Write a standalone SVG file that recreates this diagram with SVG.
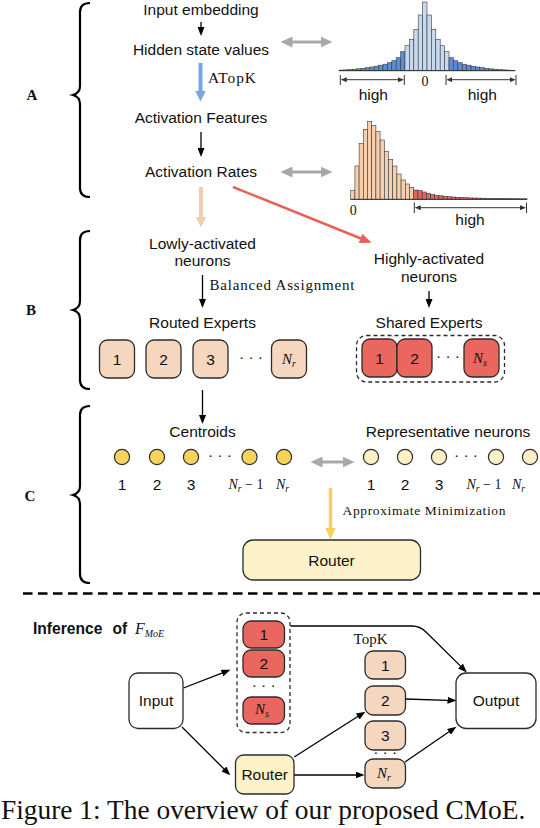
<svg xmlns="http://www.w3.org/2000/svg" width="540" height="828" viewBox="0 0 540 828">
<style>
.t{font-family:"Liberation Sans",Arial,sans-serif;font-size:15.5px;fill:#111;text-anchor:middle}
.sf{font-family:"Liberation Serif","Times New Roman",serif;fill:#111}
.mi{font-family:"Liberation Serif","Times New Roman",serif;font-style:italic;fill:#111}
.lab{font-family:"Liberation Serif","Times New Roman",serif;font-weight:bold;font-size:15px;fill:#111;text-anchor:middle}
.brace{fill:none;stroke:#000;stroke-width:2.2}
.box{stroke:#2b2b2b;stroke-width:1.3}
.peach{fill:#f5d6bf}
.red{fill:#e9675f}
.yel{fill:#fdf1c9}
.wht{fill:#fff}
.cg{fill:#f8d35c;stroke:#2b2b2b;stroke-width:1.2}
.cl{fill:#fdf0c7;stroke:#2b2b2b;stroke-width:1.2}
.dash{fill:none;stroke:#2b2b2b;stroke-width:1.3;stroke-dasharray:4 3}
.blk{fill:none;stroke:#000;stroke-width:1.3;marker-end:url(#ah)}
.gry{fill:none;stroke:#a8a8a8;stroke-width:3;marker-start:url(#gh);marker-end:url(#gh)}
.rng{fill:none;stroke:#333;stroke-width:1;marker-start:url(#rh);marker-end:url(#rh)}
.tick{stroke:#333;stroke-width:1}
.hb rect{stroke:#3a3a3a;stroke-width:0.6}
.lb{fill:#c6d9ef}.db{fill:#5d8cd6}.pc{fill:#f6cfb0}.rd{fill:#e4655f}
</style>
<defs>
<marker id="ah" markerUnits="userSpaceOnUse" markerWidth="9" markerHeight="7" viewBox="0 0 9 7" refX="0.5" refY="3.5" orient="auto"><path d="M0,0 L9,3.5 L0,7 z" fill="#000"/></marker>
<marker id="gh" markerUnits="userSpaceOnUse" markerWidth="12" markerHeight="11" viewBox="0 0 12 11" refX="0.5" refY="5.5" orient="auto-start-reverse"><path d="M0,0 L12,5.5 L0,11 z" fill="#a8a8a8"/></marker>
<marker id="rh" markerUnits="userSpaceOnUse" markerWidth="6" markerHeight="5" viewBox="0 0 6 5" refX="0.3" refY="2.5" orient="auto-start-reverse"><path d="M0,0 L6,2.5 L0,5 z" fill="#333"/></marker>
<marker id="bh" markerUnits="userSpaceOnUse" markerWidth="11" markerHeight="11" viewBox="0 0 11 11" refX="0.5" refY="5.5" orient="auto"><path d="M0,0 L11,5.5 L0,11 z" fill="#78a6e4"/></marker>
<marker id="ph" markerUnits="userSpaceOnUse" markerWidth="11" markerHeight="11" viewBox="0 0 11 11" refX="0.5" refY="5.5" orient="auto"><path d="M0,0 L11,5.5 L0,11 z" fill="#f2cdb0"/></marker>
<marker id="rdh" markerUnits="userSpaceOnUse" markerWidth="12" markerHeight="10" viewBox="0 0 12 10" refX="0.5" refY="5" orient="auto"><path d="M0,0 L12,5 L0,10 z" fill="#e8605a"/></marker>
<marker id="yh" markerUnits="userSpaceOnUse" markerWidth="12" markerHeight="11" viewBox="0 0 12 11" refX="0.5" refY="5.5" orient="auto"><path d="M0,0 L12,5.5 L0,11 z" fill="#f5cf5f"/></marker>
</defs>

<!-- Section labels and braces -->
<g id="braces">
<path class="brace" d="M90,3 Q80,3 80,12 L80,86 Q80,93 73,95 Q80,97 80,104 L80,188 Q80,197 90,197"/>
<path class="brace" d="M90,231 Q80,231 80,240 L80,301 Q80,308 73,310 Q80,312 80,319 L80,380 Q80,389 90,389"/>
<path class="brace" d="M90,406 Q80,406 80,415 L80,486 Q80,493 73,495 Q80,497 80,504 L80,574 Q80,583 90,583"/>
<text class="lab" x="32" y="100">A</text>
<text class="lab" x="31" y="315">B</text>
<text class="lab" x="30" y="501">C</text>
</g>

<!-- Section A texts -->
<g id="input-embedding"><text class="t" x="201" y="15">Input embedding</text></g>
<g id="hidden-state"><text class="t" x="201" y="55">Hidden state values</text></g>
<g id="atopk-label"><text class="sf" x="208" y="83" font-size="15.5" textLength="48">ATopK</text></g>
<g id="activation-features"><text class="t" x="201" y="123">Activation Features</text></g>
<g id="activation-rates"><text class="t" x="201" y="177">Activation Rates</text></g>

<!-- Histogram 1 -->
<g id="hist-hidden" class="hb">
<rect class="db" x="339" y="70.1" width="4.4" height="0.6"/>
<rect class="db" x="343.4" y="69.9" width="4.4" height="0.8"/>
<rect class="db" x="347.8" y="69.6" width="4.4" height="1.1"/>
<rect class="db" x="352.2" y="69.2" width="4.4" height="1.5"/>
<rect class="db" x="356.6" y="68.8" width="4.4" height="1.9"/>
<rect class="db" x="361" y="68.3" width="4.4" height="2.4"/>
<rect class="db" x="365.4" y="67.7" width="4.4" height="3"/>
<rect class="db" x="369.8" y="67" width="4.4" height="3.7"/>
<rect class="db" x="374.2" y="66.2" width="4.4" height="4.5"/>
<rect class="db" x="378.6" y="65.2" width="4.4" height="5.5"/>
<rect class="db" x="383" y="64.2" width="4.4" height="6.5"/>
<rect class="db" x="387.4" y="62.7" width="4.4" height="8"/>
<rect class="db" x="391.8" y="60.7" width="4.4" height="10"/>
<rect class="db" x="396.2" y="57.7" width="4.4" height="13"/>
<rect class="db" x="400.6" y="51.7" width="4.4" height="19"/>
<rect class="lb" x="405" y="45.7" width="4.4" height="25"/>
<rect class="lb" x="409.4" y="39.4" width="4.4" height="31.3"/>
<rect class="lb" x="413.8" y="29.4" width="4.4" height="41.3"/>
<rect class="lb" x="418.2" y="15" width="4.4" height="55.7"/>
<rect class="lb" x="422.6" y="2" width="4.4" height="68.7"/>
<rect class="lb" x="427" y="15" width="4.4" height="55.7"/>
<rect class="lb" x="431.4" y="29.4" width="4.4" height="41.3"/>
<rect class="lb" x="435.8" y="39.4" width="4.4" height="31.3"/>
<rect class="lb" x="440.2" y="45.7" width="4.4" height="25"/>
<rect class="lb" x="444.6" y="51.7" width="4.4" height="19"/>
<rect class="db" x="449" y="57.7" width="4.4" height="13"/>
<rect class="db" x="453.4" y="60.7" width="4.4" height="10"/>
<rect class="db" x="457.8" y="62.7" width="4.4" height="8"/>
<rect class="db" x="462.2" y="64.2" width="4.4" height="6.5"/>
<rect class="db" x="466.6" y="65.2" width="4.4" height="5.5"/>
<rect class="db" x="471" y="66.2" width="4.4" height="4.5"/>
<rect class="db" x="475.4" y="67" width="4.4" height="3.7"/>
<rect class="db" x="479.8" y="67.7" width="4.4" height="3"/>
<rect class="db" x="484.2" y="68.3" width="4.4" height="2.4"/>
<rect class="db" x="488.6" y="68.8" width="4.4" height="1.9"/>
<rect class="db" x="493" y="69.2" width="4.4" height="1.5"/>
<rect class="db" x="497.4" y="69.6" width="4.4" height="1.1"/>
<rect class="db" x="501.8" y="69.9" width="4.4" height="0.8"/>
<rect class="db" x="506.2" y="70.1" width="4.4" height="0.6"/>
<rect class="db" x="510.6" y="70.3" width="4.4" height="0.4"/>
<line class="tick" x1="339" y1="70.7" x2="515" y2="70.7"/>
<line class="tick" x1="340.3" y1="75" x2="340.3" y2="85"/>
<line class="tick" x1="404.3" y1="75" x2="404.3" y2="85"/>
<line class="rng" x1="346.5" y1="79.7" x2="398.3" y2="79.7"/>
<line class="tick" x1="446" y1="75" x2="446" y2="85"/>
<line class="tick" x1="516" y1="75" x2="516" y2="85"/>
<line class="rng" x1="452" y1="79.7" x2="510" y2="79.7"/>
<text class="sf" x="425" y="86" font-size="14" text-anchor="middle">0</text>
<text class="t" x="373.3" y="100">high</text>
<text class="t" x="482.3" y="100">high</text>
</g>

<!-- Histogram 2 -->
<g id="hist-rates" class="hb">
<rect class="pc" x="350.7" y="190.6" width="4.2" height="8.7"/>
<rect class="pc" x="354.9" y="166" width="4.2" height="33.3"/>
<rect class="pc" x="359.1" y="143.3" width="4.2" height="56"/>
<rect class="pc" x="363.3" y="129.3" width="4.2" height="70"/>
<rect class="pc" x="367.5" y="121.6" width="4.2" height="77.7"/>
<rect class="pc" x="371.7" y="125.6" width="4.2" height="73.7"/>
<rect class="pc" x="375.9" y="131.6" width="4.2" height="67.7"/>
<rect class="pc" x="380.1" y="140" width="4.2" height="59.3"/>
<rect class="pc" x="384.3" y="151.6" width="4.2" height="47.7"/>
<rect class="pc" x="388.5" y="159.3" width="4.2" height="40"/>
<rect class="pc" x="392.7" y="166" width="4.2" height="33.3"/>
<rect class="pc" x="396.9" y="174" width="4.2" height="25.3"/>
<rect class="pc" x="401.1" y="180" width="4.2" height="19.3"/>
<rect class="pc" x="405.3" y="184" width="4.2" height="15.3"/>
<rect class="pc" x="409.5" y="187.3" width="4.2" height="12"/>
<rect class="rd" x="413.7" y="190" width="4.2" height="9.3"/>
<rect class="rd" x="417.9" y="190.6" width="4.2" height="8.7"/>
<rect class="rd" x="422.1" y="192" width="4.2" height="7.3"/>
<rect class="rd" x="426.3" y="193.3" width="4.2" height="6"/>
<rect class="rd" x="430.5" y="194.6" width="4.2" height="4.7"/>
<rect class="rd" x="434.7" y="195.3" width="4.2" height="4"/>
<rect class="rd" x="438.9" y="195.8" width="4.2" height="3.5"/>
<rect class="rd" x="443.1" y="196.3" width="4.2" height="3"/>
<rect class="rd" x="447.3" y="196.7" width="4.2" height="2.6"/>
<rect class="rd" x="451.5" y="197" width="4.2" height="2.3"/>
<rect class="rd" x="455.7" y="197.3" width="4.2" height="2"/>
<rect class="rd" x="459.9" y="197.5" width="4.2" height="1.8"/>
<rect class="rd" x="464.1" y="197.7" width="4.2" height="1.6"/>
<rect class="rd" x="468.3" y="197.9" width="4.2" height="1.4"/>
<rect class="rd" x="472.5" y="198" width="4.2" height="1.3"/>
<rect class="rd" x="476.7" y="198.1" width="4.2" height="1.2"/>
<rect class="rd" x="480.9" y="198.2" width="4.2" height="1.1"/>
<rect class="rd" x="485.1" y="198.3" width="4.2" height="1"/>
<rect class="rd" x="489.3" y="198.4" width="4.2" height="0.9"/>
<rect class="rd" x="493.5" y="198.5" width="4.2" height="0.8"/>
<rect class="rd" x="497.7" y="198.5" width="4.2" height="0.8"/>
<rect class="rd" x="501.9" y="198.6" width="4.2" height="0.7"/>
<rect class="rd" x="506.1" y="198.6" width="4.2" height="0.7"/>
<rect class="rd" x="510.3" y="198.7" width="4.2" height="0.6"/>
<rect class="rd" x="514.5" y="198.7" width="4.2" height="0.6"/>
<rect class="rd" x="518.7" y="198.8" width="4.2" height="0.5"/>
<rect class="rd" x="522.9" y="198.8" width="4.2" height="0.5"/>
<line class="tick" x1="350.7" y1="199.3" x2="527.1" y2="199.3"/>
<line class="tick" x1="414.3" y1="202.5" x2="414.3" y2="213"/>
<line class="tick" x1="526.5" y1="202.5" x2="526.5" y2="213"/>
<line class="rng" x1="420.5" y1="207.7" x2="520.3" y2="207.7"/>
<text class="sf" x="353.3" y="215" font-size="14" text-anchor="middle">0</text>
<text class="t" x="470" y="225">high</text>
</g>

<!-- Section B -->
<g id="lowly"><text class="t" x="202.5" y="249">Lowly-activated</text><text class="t" x="202.5" y="266">neurons</text></g>
<g id="balanced-label"><text class="sf" x="209.5" y="290" font-size="15" textLength="145">Balanced Assignment</text></g>
<g id="routed-experts">
<text class="t" x="202.5" y="327.5">Routed Experts</text>
<rect class="box peach" x="99.5" y="340" width="35" height="38" rx="8"/>
<text class="t" x="117" y="365">1</text>
<rect class="box peach" x="146" y="340" width="35" height="38" rx="8"/>
<text class="t" x="163.5" y="365">2</text>
<rect class="box peach" x="193" y="340" width="35" height="38" rx="8"/>
<text class="t" x="210.5" y="365">3</text>
<text class="t" x="251" y="362">· · ·</text>
<rect class="box peach" x="271.5" y="340" width="35" height="38" rx="8"/>
<text class="mi" x="289" y="364" font-size="15" text-anchor="middle">N<tspan font-size="10" dy="3">r</tspan></text>
</g>
<g id="highly"><text class="t" x="429" y="264">Highly-activated</text><text class="t" x="429" y="281.5">neurons</text></g>
<g id="shared-experts">
<text class="t" x="429" y="327.5">Shared Experts</text>
<rect class="dash" x="356.5" y="335.5" width="148" height="46.5" rx="10"/>
<rect class="box red" x="362" y="339" width="35" height="38" rx="8"/>
<text class="t" x="379.5" y="364">1</text>
<rect class="box red" x="397" y="339" width="35" height="38" rx="8"/>
<text class="t" x="414.5" y="364">2</text>
<text class="t" x="448" y="361">· · ·</text>
<rect class="box red" x="464" y="339" width="35" height="38" rx="8"/>
<text class="mi" x="480" y="363" font-size="15" text-anchor="middle">N<tspan font-size="10" dy="3">s</tspan></text>
</g>

<!-- Section C -->
<g id="centroids">
<text class="t" x="202.5" y="437">Centroids</text>
<circle class="cg" cx="122" cy="457" r="7.6"/>
<circle class="cg" cx="157" cy="457" r="7.6"/>
<circle class="cg" cx="191" cy="457" r="7.6"/>
<text class="t" x="220" y="460">· · ·</text>
<circle class="cg" cx="249.5" cy="457" r="7.6"/>
<circle class="cg" cx="284" cy="457" r="7.6"/>
<text class="t" x="122" y="490">1</text>
<text class="t" x="157" y="490">2</text>
<text class="t" x="191" y="490">3</text>
<text class="mi" x="228.5" y="489" font-size="14">N<tspan font-size="9.5" dy="3">r</tspan><tspan font-style="normal" dy="-3"> − 1</tspan></text>
<text class="mi" x="276" y="489" font-size="14">N<tspan font-size="9.5" dy="3">r</tspan></text>
</g>
<g id="representative">
<text class="t" x="448" y="437">Representative neurons</text>
<circle class="cl" cx="371" cy="457" r="7.6"/>
<circle class="cl" cx="405" cy="457" r="7.6"/>
<circle class="cl" cx="439" cy="457" r="7.6"/>
<text class="t" x="466" y="460">· · ·</text>
<circle class="cl" cx="496" cy="457" r="7.6"/>
<circle class="cl" cx="530" cy="457" r="7.6"/>
<text class="t" x="371" y="490">1</text>
<text class="t" x="405" y="490">2</text>
<text class="t" x="439" y="490">3</text>
<text class="mi" x="466.5" y="489" font-size="14">N<tspan font-size="9.5" dy="3">r</tspan><tspan font-style="normal" dy="-3"> − 1</tspan></text>
<text class="mi" x="512" y="489" font-size="14">N<tspan font-size="9.5" dy="3">r</tspan></text>
</g>
<g id="approx-label"><text class="sf" x="342.5" y="515" font-size="13.5" textLength="163">Approximate Minimization</text></g>
<g id="router-c">
<rect class="box yel" x="243" y="540" width="177.5" height="40" rx="10"/>
<text class="t" x="331.5" y="565.5">Router</text>
</g>

<!-- Separator -->
<line x1="23" y1="593.5" x2="540" y2="593.5" stroke="#000" stroke-width="2.4" stroke-dasharray="9.5 5.5"/>

<!-- Inference -->
<g id="inference-title">
<text x="33" y="633.5" font-family="Liberation Sans, Arial, sans-serif" font-weight="bold" font-size="15.6" fill="#111">Inference</text>
<text x="112.5" y="633.5" font-family="Liberation Sans, Arial, sans-serif" font-weight="bold" font-size="15.6" fill="#111">of</text>
<text class="mi" x="135" y="633.5" font-size="16">F<tspan font-size="10" dy="3">MoE</tspan></text>
</g>
<g id="inf-input"><rect class="box wht" x="129" y="673" width="54" height="55.5" rx="9"/><text class="t" x="156" y="706">Input</text></g>
<g id="inf-shared">
<rect class="dash" x="237" y="613" width="53" height="119.5" rx="9"/>
<rect class="box red" x="243" y="621" width="41.5" height="27" rx="8"/>
<text class="t" x="263.7" y="639.5">1</text>
<rect class="box red" x="243" y="650" width="41.5" height="27" rx="8"/>
<text class="t" x="263.7" y="668.5">2</text>
<text class="t" x="263.7" y="690">· · ·</text>
<rect class="box red" x="243" y="697" width="41.5" height="27" rx="8"/>
<text class="mi" x="262" y="714" font-size="15" text-anchor="middle">N<tspan font-size="10" dy="3">s</tspan></text>
</g>
<g id="inf-router"><rect class="box yel" x="235.5" y="755" width="58.5" height="39" rx="8"/><text class="t" x="264.7" y="780">Router</text></g>
<g id="inf-routed">
<text class="sf" x="370.5" y="643.5" font-size="15" text-anchor="middle">TopK</text>
<rect class="box peach" x="365" y="651" width="40.5" height="28" rx="8"/>
<text class="t" x="385.2" y="670.5">1</text>
<rect class="box peach" x="365" y="686" width="40.5" height="29" rx="8"/>
<text class="t" x="385.2" y="706">2</text>
<rect class="box peach" x="365" y="721" width="40.5" height="29" rx="8"/>
<text class="t" x="385.2" y="741">3</text>
<text class="t" x="385.2" y="757">· · ·</text>
<rect class="box peach" x="365" y="759" width="40.5" height="29" rx="8"/>
<text class="mi" x="384" y="778" font-size="15" text-anchor="middle">N<tspan font-size="10" dy="3">r</tspan></text>
</g>
<g id="inf-output"><rect class="box wht" x="456" y="673" width="80" height="55.5" rx="10"/><text class="t" x="496" y="706">Output</text></g>

<!-- Connectors -->
<g id="connectors">
<line class="blk" x1="201" y1="22" x2="201" y2="27.5"/>
<line x1="200.5" y1="63" x2="200.5" y2="91" stroke="#78a6e4" stroke-width="4" marker-end="url(#bh)"/>
<line class="blk" x1="201" y1="132" x2="201" y2="148.5"/>
<line x1="201" y1="187" x2="201" y2="217" stroke="#f2cdb0" stroke-width="4" marker-end="url(#ph)"/>
<line x1="233" y1="187" x2="360.9" y2="238.5" stroke="#e8605a" stroke-width="2.5" marker-end="url(#rdh)"/>
<line class="gry" x1="292" y1="42" x2="321" y2="42"/>
<line class="gry" x1="292" y1="172" x2="321" y2="172"/>
<line class="blk" x1="202.5" y1="275" x2="202.5" y2="299.5"/>
<line class="blk" x1="429" y1="291" x2="429" y2="299.5"/>
<line class="blk" x1="202.5" y1="390" x2="202.5" y2="415.5"/>
<line class="gry" x1="322" y1="462" x2="343" y2="462"/>
<line x1="330.5" y1="488" x2="330.5" y2="528" stroke="#f5cf5f" stroke-width="3.5" marker-end="url(#yh)"/>
<line class="blk" x1="183.5" y1="688" x2="222.5" y2="672.9"/>
<line class="blk" x1="182" y1="727" x2="224.3" y2="769.3"/>
<path class="blk" d="M290.5,626 L412,626 Q420,626 426,632 L460.8,666.4"/>
<line class="blk" x1="294.2" y1="757" x2="358.2" y2="716.3"/>
<line class="blk" x1="294.2" y1="775" x2="356" y2="775"/>
<line class="blk" x1="405.5" y1="699" x2="448" y2="700.3"/>
<line class="blk" x1="405" y1="762" x2="449.4" y2="731.5"/>
</g>

<text x="1" y="818.5" font-family="Liberation Serif, Times New Roman, serif" font-size="27.4" fill="#111">Figure 1: The overview of our proposed CMoE.</text>
</svg>
